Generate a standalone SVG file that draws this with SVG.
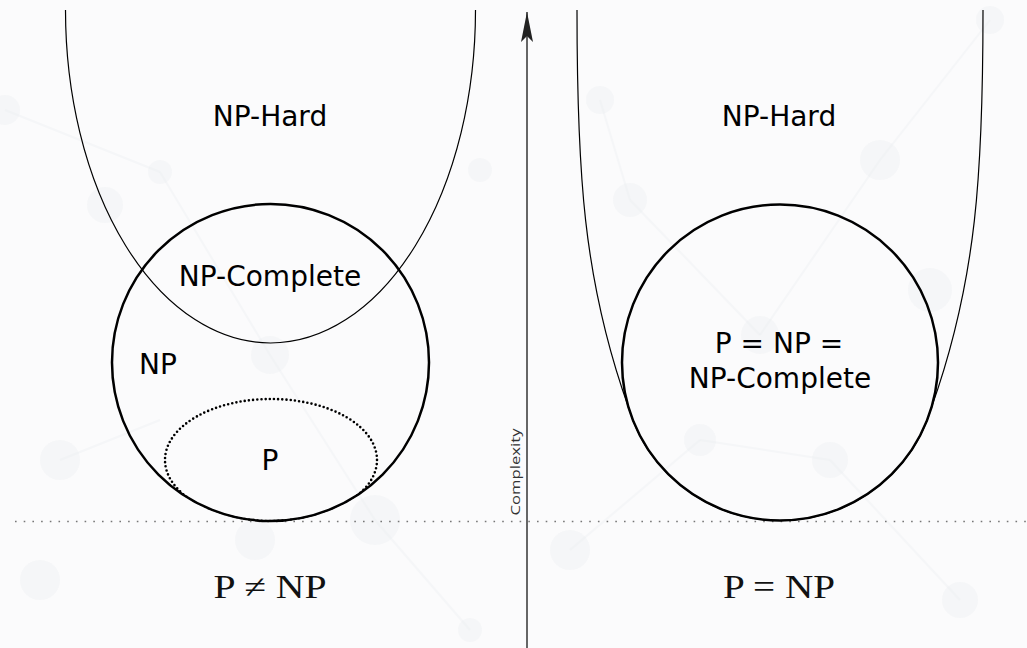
<svg xmlns="http://www.w3.org/2000/svg" width="1027" height="648" viewBox="0 0 1027 648">
  <style>
    .lbl { font-family: "DejaVu Sans", sans-serif; font-size: 28px; fill: #000; text-anchor: middle; }
    .eq { font-family: "Liberation Serif", serif; font-size: 33px; fill: #111; text-anchor: middle; }
    .set { fill: none; stroke: #000; stroke-width: 2.5; }
    .hard { fill: none; stroke: #000; stroke-width: 1.2; }
    .bg circle { fill: #e8ecef; opacity: 0.3; }
    .bg line { stroke: #e8ecef; stroke-width: 2; opacity: 0.3; }
  </style>
  <defs>
    <marker id="arrow" viewBox="0 0 30 12" refX="30" refY="6" markerWidth="30" markerHeight="12" markerUnits="userSpaceOnUse" orient="auto">
      <path d="M30 6 L0 0 L6 6 L0 12 Z" fill="#222"/>
    </marker>
    <clipPath id="npClip"><circle cx="270.5" cy="362.5" r="159.5"/></clipPath>
  </defs>
  <rect width="1027" height="648" fill="#fbfbfc"/>
  <g class="bg">
    <line x1="5" y1="110" x2="160" y2="172"/><line x1="160" y1="172" x2="270" y2="355"/>
    <line x1="60" y1="460" x2="160" y2="420"/><line x1="270" y1="355" x2="375" y2="520"/>
    <line x1="375" y1="520" x2="470" y2="630"/><line x1="600" y1="100" x2="630" y2="200"/>
    <line x1="630" y1="200" x2="760" y2="335"/><line x1="760" y1="335" x2="880" y2="160"/>
    <line x1="880" y1="160" x2="990" y2="20"/><line x1="570" y1="550" x2="700" y2="440"/>
    <line x1="700" y1="440" x2="830" y2="460"/><line x1="830" y1="460" x2="960" y2="600"/>
    <circle cx="5" cy="110" r="15"/><circle cx="160" cy="172" r="12"/><circle cx="60" cy="460" r="20"/>
    <circle cx="105" cy="205" r="18"/><circle cx="270" cy="355" r="19"/><circle cx="375" cy="520" r="25"/>
    <circle cx="470" cy="630" r="12"/><circle cx="600" cy="100" r="14"/><circle cx="630" cy="200" r="17"/>
    <circle cx="760" cy="335" r="19"/><circle cx="880" cy="160" r="20"/><circle cx="990" cy="20" r="14"/>
    <circle cx="570" cy="550" r="20"/><circle cx="700" cy="440" r="16"/><circle cx="830" cy="460" r="18"/>
    <circle cx="960" cy="600" r="18"/><circle cx="480" cy="170" r="12"/><circle cx="930" cy="290" r="22"/>
    <circle cx="40" cy="580" r="20"/><circle cx="255" cy="540" r="20"/>
  </g>
  <g id="connectors">
    <line x1="527" y1="648" x2="527" y2="12" stroke="#666" stroke-width="2" marker-end="url(#arrow)"/>
    <line x1="15" y1="521.5" x2="1027" y2="521.5" stroke="#777" stroke-width="1.6" stroke-dasharray="1.6 7.1"/>
  </g>
  <g id="axis-label">
    <text transform="translate(520 472) rotate(-90)" font-family="'Open Sans', 'DejaVu Sans', sans-serif" font-size="13" fill="#333" text-anchor="middle" textLength="87" lengthAdjust="spacingAndGlyphs">Complexity</text>
  </g>
  <g id="np-hard-left">
    <path class="hard" d="M65.5 10 A205 333 0 0 0 475.5 10"/>
    <text class="lbl" x="270" y="126">NP-Hard</text>
  </g>
  <g id="np-left">
    <circle class="set" cx="270.5" cy="362.5" r="158.5"/>
    <text class="lbl" x="158" y="374">NP</text>
  </g>
  <g id="np-complete-left">
    <text class="lbl" x="270" y="286">NP-Complete</text>
  </g>
  <g id="p-left">
    <ellipse cx="271" cy="460" rx="106" ry="61" fill="none" stroke="#000" stroke-width="2.6" stroke-linecap="round" stroke-dasharray="0 4.2" clip-path="url(#npClip)"/>
    <text class="lbl" x="270" y="470">P</text>
  </g>
  <g id="np-hard-right">
    <path class="hard" d="M577 10 C577 170 583 280 628.4 407 A158 158 0 0 0 931.6 407 C977 280 983 170 983 10"/>
    <text class="lbl" x="779" y="126">NP-Hard</text>
  </g>
  <g id="p-np-right">
    <circle class="set" cx="780" cy="362.5" r="158"/>
    <text class="lbl" x="779" y="353">P = NP =</text>
    <text class="lbl" x="780" y="388">NP-Complete</text>
  </g>
  <g id="captions">
    <text class="eq" x="270" y="598" textLength="113" lengthAdjust="spacingAndGlyphs">P ≠ NP</text>
    <text class="eq" x="779" y="598" textLength="112" lengthAdjust="spacingAndGlyphs">P = NP</text>
  </g>
</svg>
